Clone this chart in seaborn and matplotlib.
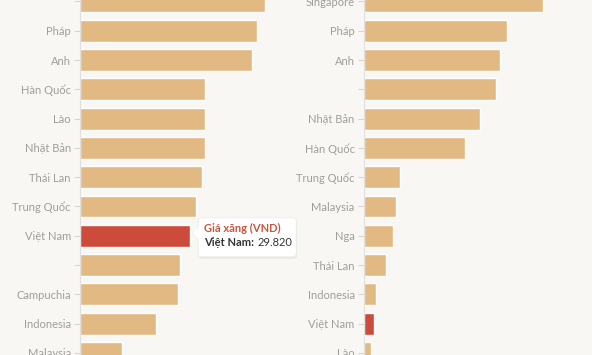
import matplotlib
matplotlib.use("Agg")
import pandas as pd
import seaborn as sns
import matplotlib.pyplot as plt
from matplotlib.patches import FancyBboxPatch, Polygon
from matplotlib.transforms import IdentityTransform


# left panel: gasoline price (VND / litre)
left_countries = ["Singapore", "Pháp", "Anh", "Hàn Quốc", "Lào", "Nhật Bản", "Thái Lan",
                  "Trung Quốc", "Việt Nam", "Philippines", "Campuchia", "Indonesia", "Malaysia"]
left_values = [50200, 48100, 46700, 34100, 34100, 34000, 33200,
               31400, 29820, 27100, 26600, 20600, 11300]
left_ticklabels = ["", "Pháp", "Anh", "Hàn Quốc", "Lào", "Nhật Bản", "Thái Lan",
                   "Trung Quốc", "Việt Nam", "", "Campuchia", "Indonesia", "Malaysia"]

# right panel
right_countries = ["Singapore", "Pháp", "Anh", "Mỹ", "Nhật Bản", "Hàn Quốc", "Trung Quốc",
                   "Malaysia", "Nga", "Thái Lan", "Indonesia", "Việt Nam", "Lào"]
right_values = [179, 143, 136, 132, 116, 101, 36, 32, 29, 22, 12, 10, 7]
right_ticklabels = ["Singapore", "Pháp", "Anh", "", "Nhật Bản", "Hàn Quốc", "Trung Quốc",
                    "Malaysia", "Nga", "Thái Lan", "Indonesia", "Việt Nam", "Lào"]

BG = "#f8f7f4"
TAN = "#e2b982"
RED = "#cc4b3a"

sns.set_theme(style="white")
plt.rcParams['font.family'] = ['Lato', 'DejaVu Sans']

fig = plt.figure(figsize=(5.92, 3.55), dpi=100, facecolor=BG)
axL = fig.add_axes([80 / 592, 0, 200 / 592, 1])
axR = fig.add_axes([363.7 / 592, 0, 200 / 592, 1])


def draw(ax, countries, values, ticklabels, xmax):
    df = pd.DataFrame({"country": countries, "value": values})
    pal = {c: (RED if c == "Việt Nam" else TAN) for c in countries}
    sns.barplot(data=df, x="value", y="country", hue="country", palette=pal,
                legend=False, width=0.75, saturation=1, ax=ax)
    ax.set_facecolor(BG)
    ax.set_xlim(0, xmax)
    ax.set_ylim(12.07, -0.05)
    ax.set_xlabel("")
    ax.set_ylabel("")
    ax.set_xticks([])
    ax.set_yticks(range(len(countries)))
    ax.set_yticklabels(ticklabels)
    for s in ["top", "right", "bottom"]:
        ax.spines[s].set_visible(False)
    ax.spines["left"].set_color("#e2e0dc")
    ax.spines["left"].set_linewidth(0.8)
    ax.tick_params(axis="y", length=4, width=0.8, color="#d8d6d2",
                   labelcolor="#a09e9b", labelsize=8, pad=2.5, left=True)
    return df


draw(axL, left_countries, left_values, left_ticklabels, 200 * 271.8)
draw(axR, right_countries, right_values, right_ticklabels, 200)

# tooltip on the Viet Nam bar
vi = left_countries.index("Việt Nam")
ax0, ay0 = axL.transData.transform((left_values[vi], vi))
px = IdentityTransform()
bx0, bx1 = ax0 + 8.5, ax0 + 106.5
by0, by1 = ay0 - 21, ay0 + 18
shadow = FancyBboxPatch((bx0 + 1, by0 - 2), bx1 - bx0, by1 - by0,
                        boxstyle="round,pad=0,rounding_size=3", transform=px,
                        facecolor="#000000", alpha=0.06, edgecolor="none", zorder=9)
box = FancyBboxPatch((bx0, by0), bx1 - bx0, by1 - by0,
                     boxstyle="round,pad=0,rounding_size=3", transform=px,
                     facecolor="white", edgecolor="#ececec", linewidth=0.6, zorder=10)
tri = Polygon([(bx0 + 0.5, ay0 + 9), (bx0 - 4.5, ay0 + 3), (bx0 + 0.5, ay0 - 3)],
              closed=True, transform=px, facecolor="white", edgecolor="none", zorder=11)
fig.patches.extend([shadow, box, tri])

fig.text(bx0 + 6, ay0 + 7, "Giá xăng (VND)", transform=px, color="#c9553f",
         fontsize=8, fontweight="bold", va="center", ha="left", zorder=12)
t1 = fig.text(bx0 + 6, ay0 - 7, "Việt Nam:", transform=px, color="#333333",
              fontsize=8, fontweight="bold", va="center", ha="left", zorder=12)
fig.canvas.draw()
ext = t1.get_window_extent()
fig.text(ext.x1 + 3, ay0 - 7, f"{left_values[vi]:,}".replace(",", "."), transform=px,
         color="#333333", fontsize=8, va="center", ha="left", zorder=12)

fig.savefig("out.png", dpi=100, facecolor=BG)
